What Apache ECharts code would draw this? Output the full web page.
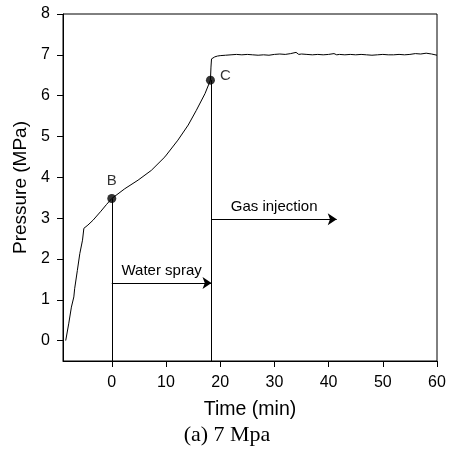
<!DOCTYPE html>
<html>
<head>
<meta charset="utf-8">
<title>Pressure vs time (7 MPa)</title>
<script src="https://cdn.jsdelivr.net/npm/echarts@6/dist/echarts.min.js"></script>
<style>
  html, body { margin: 0; padding: 0; background: #fff; }
  #chart { width: 449px; height: 455px; }
</style>
</head>
<body>
<div id="chart"></div>
<script>
// pressure record
const timeMin = [
  -8.5, -8.35, -7.95, -7.45, -7.0, -6.85, -6.5, -6.35, -6.1, -5.9, -5.6, -5.4, -5.15,
  -4.4, -3.45, -2.0, -1.0, 0,
  2.4, 4.85, 7.3, 9.8, 12.2, 14.1, 15.6, 17.2, 18.2, 18.3, 18.4,
  19, 19.5, 20, 21, 22, 23, 24, 25, 26, 27, 28, 29, 30, 31, 32, 33, 34, 34.5, 35,
  36, 37, 38, 39, 40, 41, 41.5, 42, 43, 44, 45, 46, 47, 48, 49, 50, 51, 52, 53,
  54, 55, 56, 57, 58, 59, 60
];
const pressureMPa = [
  0, 0, 0.41, 0.82, 1.07, 1.27, 1.27, 1.72, 1.72, 2.13, 2.17, 2.46, 2.75,
  2.83, 2.95, 3.17, 3.33, 3.48,
  3.72, 3.93, 4.17, 4.5, 4.91, 5.28, 5.64, 6.05, 6.38, 6.7, 6.9,
  6.95, 6.97, 6.98, 6.99, 7.0, 7.01, 7.0, 7.01, 7.0, 6.99, 7.0, 6.99, 7.01, 7.02,
  7.01, 7.03, 7.06, 7.01, 7.02, 7.01, 7.0, 7.01, 7.0, 7.01, 7.03, 7.0, 7.01, 7.0,
  7.01, 7.0, 7.01, 7.0, 6.99, 7.0, 7.01, 7.0, 7.0, 7.01, 7.0, 7.01, 7.03, 7.02,
  7.04, 7.02, 6.99
];

const xTicks = [0, 10, 20, 30, 40, 50, 60];
const yTicks = [0, 1, 2, 3, 4, 5, 6, 7, 8];

const pointNames = ["B", "C"];
const pointTime = [0, 18.2];
const pointPressure = [3.48, 6.38];

// start of water spray / gas injection, and where the arrows sit
const sprayStart = 0;
const gasStart = 18.4;
const gasArrowEnd = 41.5;
const sprayArrowLevel = 1.41;
const gasArrowLevel = 2.97;

const font = "Liberation Sans";
const chart = echarts.init(document.getElementById("chart"), null, { renderer: "canvas" });

const option = {
  animation: false,
  grid: {
    left: 63,
    right: 12,
    top: 14,
    bottom: 94,
    show: true,
    borderColor: "#000",
    borderWidth: 1,
  },
  xAxis: {
    type: "value",
    min: -9,
    max: 60,
    name: "Time (min)",
    nameLocation: "middle",
    nameGap: 39,
    nameTextStyle: { fontSize: 19.5, color: "#000", fontFamily: font },
    axisLine: { show: true, onZero: false, lineStyle: { color: "#000", width: 1 } },
    axisTick: { show: true, customValues: xTicks, length: 6, lineStyle: { color: "#000" } },
    axisLabel: { customValues: xTicks, fontSize: 16, color: "#000", fontFamily: font, margin: 14 },
    splitLine: { show: false },
  },
  yAxis: {
    type: "value",
    min: -0.5,
    max: 8,
    name: "Pressure (MPa)",
    nameLocation: "middle",
    nameGap: 30,
    nameTextStyle: { fontSize: 19, color: "#000", fontFamily: font },
    axisLine: { show: true, onZero: false, lineStyle: { color: "#000", width: 1 } },
    axisTick: { show: true, customValues: yTicks, length: 6, lineStyle: { color: "#000" } },
    axisLabel: { customValues: yTicks, fontSize: 16, color: "#000", fontFamily: font, margin: 13 },
    splitLine: { show: false },
  },
  graphic: [
    {
      type: "text",
      x: 227,
      y: 435,
      style: {
        text: "(a) 7 Mpa",
        font: '22px "Liberation Serif"',
        fill: "#000",
        textAlign: "center",
        textVerticalAlign: "middle",
      },
    },
  ],
  series: [
    {
      name: "Pressure",
      type: "line",
      data: timeMin.map((t, i) => [t, pressureMPa[i]]),
      symbol: "none",
      lineStyle: { color: "#000", width: 1 },
      z: 3,
    },
    {
      // vertical guides at B and C
      name: "guides",
      type: "line",
      data: [],
      markLine: {
        silent: true,
        symbol: ["none", "none"],
        lineStyle: { color: "#000", width: 1, type: "solid" },
        label: { show: false },
        data: [
          [{ coord: [sprayStart, pointPressure[0]] }, { coord: [sprayStart, -0.5] }],
          [{ coord: [gasStart, pointPressure[1]] }, { coord: [gasStart, -0.5] }],
        ],
      },
    },
    {
      name: "arrows",
      type: "line",
      data: [],
      markLine: {
        silent: true,
        symbol: ["none", "arrow"],
        symbolSize: 9,
        lineStyle: { color: "#000", width: 1, type: "solid" },
        itemStyle: { color: "#000" },
        label: {
          show: true,
          position: "middle",
          formatter: "{b}",
          fontSize: 15,
          color: "#000",
          fontFamily: font,
          distance: 5,
        },
        data: [
          [{ coord: [sprayStart, sprayArrowLevel], name: "Water spray" }, { coord: [gasStart, sprayArrowLevel] }],
          [{ coord: [gasStart, gasArrowLevel], name: "Gas injection" }, { coord: [gasArrowEnd, gasArrowLevel] }],
        ],
      },
    },
    {
      name: "points",
      type: "scatter",
      symbol: "circle",
      symbolSize: 9,
      itemStyle: { color: "#000" },
      z: 4,
      label: { show: true, formatter: "{b}", fontSize: 15, color: "#000", fontFamily: font },
      data: pointNames.map((n, i) => ({
        name: n,
        value: [pointTime[i], pointPressure[i]],
        label: i === 0
          ? { position: "top", distance: 6 }
          : { position: "right", distance: 5, offset: [0, -4] },
      })),
    },
  ],
};

chart.setOption(option);
</script>
</body>
</html>
